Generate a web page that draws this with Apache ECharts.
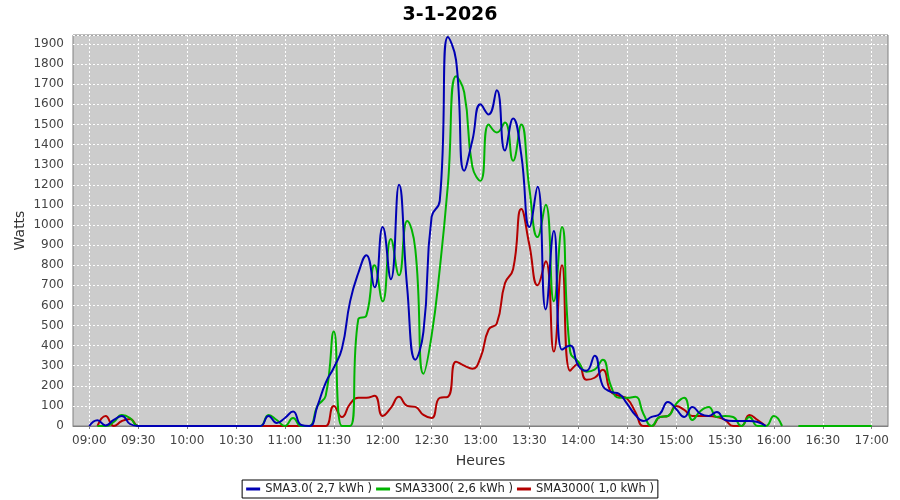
<!DOCTYPE html>
<html><head><meta charset="utf-8">
<script src="https://cdn.jsdelivr.net/npm/echarts@6/dist/echarts.min.js"></script>
<style>html,body{margin:0;padding:0;background:#fff}#c{width:900px;height:500px}</style>
</head><body><div id="c"></div>
<script>
const titleText = '3-1-2026';
const categories = [
 '08:50','08:55',
 '09:00','09:05','09:10','09:15','09:20','09:25','09:30','09:35','09:40','09:45','09:50','09:55',
 '10:00','10:05','10:10','10:15','10:20','10:25','10:30','10:35','10:40','10:45','10:50','10:55',
 '11:00','11:05','11:10','11:15','11:20','11:25','11:30','11:35','11:40','11:45','11:50','11:55',
 '12:00','12:05','12:10','12:15','12:20','12:25','12:30','12:35','12:40','12:45','12:50','12:55',
 '13:00','13:05','13:10','13:15','13:20','13:25','13:30','13:35','13:40','13:45','13:50','13:55',
 '14:00','14:05','14:10','14:15','14:20','14:25','14:30','14:35','14:40','14:45','14:50','14:55',
 '15:00','15:05','15:10','15:15','15:20','15:25','15:30','15:35','15:40','15:45','15:50','15:55',
 '16:00','16:05','16:10','16:15','16:20','16:25','16:30','16:35','16:40','16:45','16:50','16:55',
 '17:00','17:05','17:10'
];
const xTickLabels = ['09:00','09:30','10:00','10:30','11:00','11:30','12:00','12:30','13:00','13:30','14:00','14:30','15:00','15:30','16:00','16:30','17:00'];
const yTicks = [0,100,200,300,400,500,600,700,800,900,1000,1100,1200,1300,1400,1500,1600,1700,1800,1900];
const seriesNames = ['SMA3.0( 2,7 kWh )','SMA3300( 2,6 kWh )','SMA3000( 1,0 kWh )'];
const sma30 = [
 null,null,
 0,28,3,30,50,10,0,0,0,0,0,0,
 0,0,0,0,0,0,0,0,0,0,50,15,
 40,72,5,0,100,215,290,385,620,760,850,690,
 990,730,1200,690,330,470,1040,1120,1935,1820,1270,1420,
 1600,1550,1670,1370,1530,1350,990,1190,580,970,380,400,
 300,275,350,200,170,160,110,55,25,45,60,120,
 85,45,95,60,50,70,30,25,25,25,20,0,
 null,null,null,null,null,null,null,null,null,null,null,null,
 null,null,null
];
const sma3300 = [
 null,null,
 null,0,0,20,55,40,0,0,0,0,0,0,
 0,0,0,0,0,0,0,0,0,0,55,30,
 0,40,0,0,100,150,470,0,0,530,550,800,
 620,930,750,1020,880,260,450,780,1200,1740,1660,1290,
 1220,1500,1460,1510,1320,1500,1180,940,1100,620,990,370,
 320,270,280,330,200,140,140,145,60,0,45,50,
 110,140,30,75,95,45,50,45,0,45,0,0,
 50,0,null,0,0,0,0,0,0,0,0,0,
 0,null,null
];
const sma3000 = [
 null,null,
 null,0,50,0,25,35,0,0,0,0,0,0,
 0,0,0,0,0,0,0,0,0,0,0,0,
 0,0,0,0,0,0,100,45,110,140,140,150,
 50,90,145,100,95,55,40,140,145,320,300,285,
 340,480,510,710,780,1080,900,700,820,370,800,275,
 310,230,240,280,170,150,135,70,0,0,45,50,
 100,80,50,50,50,45,30,0,0,55,30,0,
 null,null,null,null,null,null,null,null,null,null,null,null,
 null,null,null
];
const colors = ['#0000b4','#00b400','#b40000'];
const FF = '"DejaVu Sans", sans-serif';
const isTick = (i, v) => xTickLabels.indexOf(v) >= 0;

const chart = echarts.init(document.getElementById('c'), null, {renderer:'canvas'});
const mk = (idx, data) => ({
  name: seriesNames[idx], type: 'line', data: data, smooth: 0.5, showSymbol: false,
  connectNulls: false, lineStyle: {width: 2, color: colors[idx]}, itemStyle: {color: colors[idx]}
});
chart.setOption({
  animation: false,
  textStyle: {fontFamily: FF},
  title: {text: titleText, left: 'center', top: 1,
    textStyle: {fontSize: 19, fontWeight: 'bold', color: '#000', fontFamily: FF}},
  grid: {left: 73, right: 12, top: 35, bottom: 74, show: true,
    backgroundColor: '#cccccc', borderColor: '#808080', borderWidth: 1},
  legend: {
    data: seriesNames, bottom: 2, left: 'center', orient: 'horizontal',
    borderColor: '#000', borderWidth: 1, padding: [3, 4], itemGap: 4,
    itemWidth: 14, itemHeight: 3, icon: 'rect', backgroundColor: '#fff',
    textStyle: {fontSize: 11.5, color: '#222', fontFamily: FF}
  },
  xAxis: {
    type: 'category', data: categories, boundaryGap: false,
    name: 'Heures', nameLocation: 'middle', nameGap: 24, nameMoveOverlap: false,
    nameTextStyle: {fontSize: 14, color: '#333', fontFamily: FF},
    offset: 4,
    axisLine: {show: true, lineStyle: {color: '#808080'}},
    axisTick: {show: true, interval: isTick, length: 3, lineStyle: {color: '#808080'}},
    axisLabel: {interval: isTick, color: '#444', fontSize: 12, margin: 5, fontFamily: FF},
    splitLine: {show: true, interval: isTick, lineStyle: {color: '#ffffff', type: [2, 2], width: 1}}
  },
  yAxis: {
    type: 'value', min: 0, max: 1945, interval: 100,
    name: 'Watts', nameLocation: 'middle', nameGap: 46, nameRotate: 90, nameMoveOverlap: false,
    nameTextStyle: {fontSize: 14, color: '#333', fontFamily: FF},
    axisLine: {show: false}, axisTick: {show: false},
    axisLabel: {formatter: v => (yTicks.indexOf(v) >= 0 ? String(v) : ''), color: '#444', fontSize: 12, margin: 9, fontFamily: FF},
    splitLine: {show: true, lineStyle: {color: '#ffffff', type: [2, 2], width: 1}}
  },
  series: [mk(2, sma3000), mk(1, sma3300), mk(0, sma30)].map((s, k) => Object.assign(s, {z: 2 + k}))
});
</script>
</body></html>
